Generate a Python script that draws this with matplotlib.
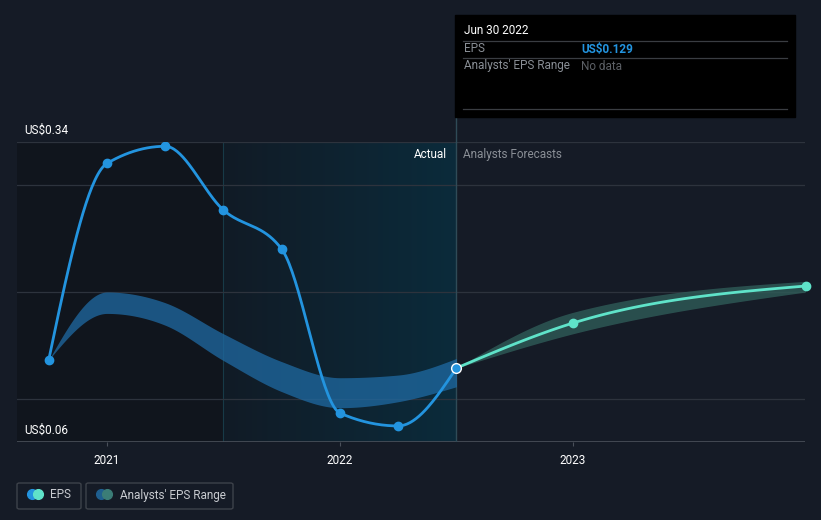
import numpy as np
import matplotlib
matplotlib.use("Agg")
import matplotlib.pyplot as plt
from matplotlib.patches import Rectangle, FancyBboxPatch
from matplotlib.lines import Line2D
from matplotlib.colors import LinearSegmentedColormap

plt.rcParams['font.family'] = ['Roboto', 'DejaVu Sans']

# EPS history (quarter ends as decimal years)
eps_x = [2020.75, 2021.0, 2021.25, 2021.5, 2021.75, 2022.0, 2022.25, 2022.5]
eps_y = [0.1365, 0.320, 0.336, 0.2765, 0.240, 0.087, 0.075, 0.129]

# past analysts' range
rng_x = [2020.75, 2021.0, 2021.25, 2021.5, 2021.75, 2022.0, 2022.25, 2022.5]
rng_hi = [0.1365, 0.200, 0.190, 0.161, 0.135, 0.120, 0.1225, 0.138]
rng_lo = [0.1365, 0.180, 0.169, 0.136, 0.107, 0.092, 0.0976, 0.1116]

# forecast
fc_x = [2022.5, 2023.0, 2024.0]
fc_y = [0.129, 0.171, 0.2056]
fc_hi = [0.129, 0.181, 0.210]
fc_lo = [0.129, 0.161, 0.200]

year_ticks = [2021, 2022, 2023]

BG = '#151b26'
BLUE = '#2394df'
MINT = '#5fe3c9'
GRID = '#2d333d'


def monotone(xs, ys, n=40):
    # monotone cubic (d3 curveMonotoneX style)
    x = np.asarray(xs, float)
    y = np.asarray(ys, float)
    h = np.diff(x)
    s = np.diff(y) / h
    t = np.zeros(len(x))
    for i in range(1, len(x) - 1):
        p = (s[i - 1] * h[i] + s[i] * h[i - 1]) / (h[i - 1] + h[i])
        t[i] = (np.sign(s[i - 1]) + np.sign(s[i])) * min(abs(s[i - 1]), abs(s[i]), 0.5 * abs(p))
    if len(x) > 2:
        t[0] = (3 * s[0] - t[1]) / 2
        t[-1] = (3 * s[-1] - t[-2]) / 2
    else:
        t[0] = t[-1] = s[0]
    ox, oy = [], []
    for i in range(len(x) - 1):
        u = np.linspace(0, 1, n)
        h00 = 2 * u**3 - 3 * u**2 + 1
        h10 = u**3 - 2 * u**2 + u
        h01 = -2 * u**3 + 3 * u**2
        h11 = u**3 - u**2
        ox.extend(x[i] + u * h[i])
        oy.extend(h00 * y[i] + h10 * h[i] * t[i] + h01 * y[i + 1] + h11 * h[i] * t[i + 1])
    return np.array(ox), np.array(oy)


fig = plt.figure(figsize=(8.21, 5.2), dpi=100, facecolor=BG)
W, H = 821, 520
ax = fig.add_axes([17 / W, (H - 442) / H, (805 - 17) / W, 300 / H])
ax.set_facecolor(BG)
ax.set_xlim(2020.614, 2023.996)
ax.set_ylim(0.06, 0.34)

# shaded periods
ax.axvspan(2020.614, 2021.5, color='#10151d', zorder=0, lw=0)
grad = np.linspace(0, 1, 256).reshape(1, -1)
cm = LinearSegmentedColormap.from_list('g', ['#111b26', '#0b2b3b'])
ax.imshow(grad, cmap=cm, extent=[2021.5, 2022.5, 0.06, 0.34], aspect='auto', zorder=0.5)
ax.axvline(2021.5, color='#173a47', lw=0.8, zorder=1)

for g in [0.1, 0.2, 0.3, 0.34]:
    ax.axhline(g, color=GRID, lw=0.9, zorder=1)
ax.axhline(0.06, color='#4a505a', lw=1.2, zorder=1)

# bands
bx, bhi = monotone(rng_x, rng_hi)
_, blo = monotone(rng_x, rng_lo)
ax.fill_between(bx, blo, bhi, color='#1f6aa3', alpha=0.75, lw=0, zorder=2)
fx, fhi = monotone(fc_x, fc_hi)
_, flo = monotone(fc_x, fc_lo)
ax.fill_between(fx, flo, fhi, color='#2f5c58', alpha=0.8, lw=0, zorder=2)

# lines
ex, ey = monotone(eps_x, eps_y)
ax.plot(ex, ey, color=BLUE, lw=2.0, zorder=3, solid_capstyle='round')
ax.plot(eps_x[:-1], eps_y[:-1], 'o', color=BLUE, ms=6, zorder=4)
cx, cy = monotone(fc_x, fc_y)
ax.plot(cx, cy, color=MINT, lw=2.0, zorder=3)
ax.plot(fc_x[1:], fc_y[1:], 'o', color=MINT, ms=6, zorder=4, clip_on=False)
ax.plot([eps_x[-1]], [eps_y[-1]], 'o', color=BLUE, mec='white', mew=1.0, ms=7, zorder=5)

ax.axvline(2022.5, color='#2f4b57', lw=1, zorder=1)

ax.set_xticks(year_ticks)
ax.set_xticklabels([str(y) for y in year_ticks], color='white', fontsize=8.5)
ax.tick_params(axis='x', length=3, color='#4a505a', pad=6)
ax.set_yticks([])
for sp in ax.spines.values():
    sp.set_visible(False)

# labels
fig.text(24 / W, 1 - 130 / H, 'US$0.34', color='white', fontsize=8.5, va='center')
fig.text(24 / W, 1 - 430 / H, 'US$0.06', color='white', fontsize=8.5, va='center')
fig.text(447 / W, 1 - 154 / H, 'Actual', color='white', fontsize=8.5, va='center', ha='right')
fig.text(463 / W, 1 - 154 / H, 'Analysts Forecasts', color='#8a8f96', fontsize=8.5, va='center')

# vertical line up to tooltip
fig.add_artist(Line2D([455.5 / W, 455.5 / W], [1 - 142 / H, 1 - 117 / H], color='#2f4b57', lw=1))

# tooltip
fig.add_artist(Rectangle((455 / W, 1 - 117 / H), 340 / W, 102 / H, color='black', zorder=5))
fig.text(464 / W, 1 - 31 / H, 'Jun 30 2022', color='white', fontsize=8.5, va='center', zorder=6)
for yy in [41, 58, 109]:
    fig.add_artist(Line2D([463 / W, 787 / W], [1 - yy / H] * 2, color='#3a3d42', lw=0.9, zorder=6))
fig.text(464 / W, 1 - 49 / H, 'EPS', color='#8a8f96', fontsize=8.5, va='center', zorder=6)
fig.text(581 / W, 1 - 49 / H, 'US$0.129', color=BLUE, fontsize=8.5, va='center', weight='bold', zorder=6)
fig.text(464 / W, 1 - 66 / H, "Analysts' EPS Range", color='#8a8f96', fontsize=8.5, va='center', zorder=6)
fig.text(581 / W, 1 - 66 / H, 'No data', color='#5c6066', fontsize=8.5, va='center', zorder=6)

# legend
for (x0, x1) in [(17, 81), (86, 233)]:
    fig.add_artist(FancyBboxPatch((x0 / W, 1 - 509 / H), (x1 - x0) / W, 26 / H,
                                  boxstyle='round,pad=0,rounding_size=0.003',
                                  fc='none', ec='#3d424a', lw=1))


def dots(x, c1, c2):
    fig.add_artist(Line2D([x / W], [1 - 494 / H], marker='o', ms=7, color=c1, lw=0))
    fig.add_artist(Line2D([(x + 6) / W], [1 - 494 / H], marker='o', ms=7, color=c2, lw=0))


dots(32, BLUE, MINT)
dots(101, '#1f5f8f', '#3b7d77')
fig.text(50 / W, 1 - 495 / H, 'EPS', color='#c8cbd0', fontsize=8.5, va='center')
fig.text(120 / W, 1 - 495 / H, "Analysts' EPS Range", color='#c8cbd0', fontsize=8.5, va='center')

fig.savefig('out.png', dpi=100, facecolor=BG)
